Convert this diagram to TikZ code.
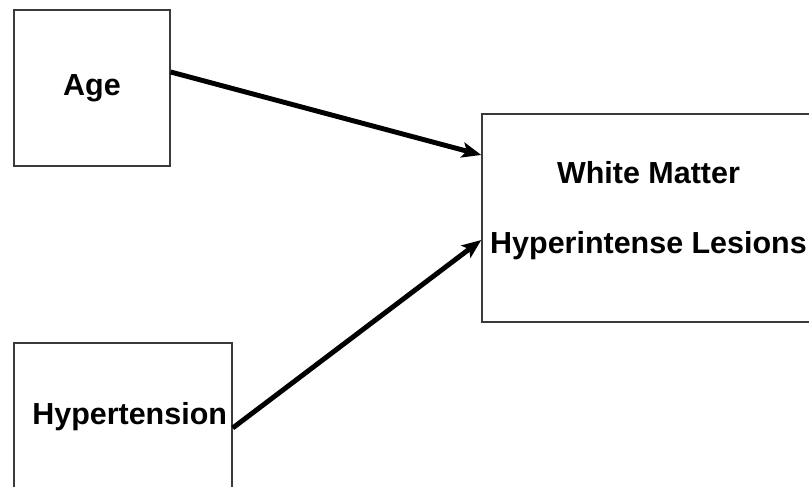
\documentclass[tikz,border=0pt]{standalone}
\usepackage{fontspec}
\setmainfont{Liberation Sans}
\usetikzlibrary{arrows.meta, positioning}
\definecolor{boxgray}{HTML}{3A3A3A}

\begin{document}
\begin{tikzpicture}[
  x=0.03cm, y=-0.03cm,
  box/.style={draw=boxgray, line width=1.2pt, inner sep=0pt, align=center, font=\fontsize{26pt}{60pt}\selectfont\bfseries},
  arr/.style={-{Stealth[length=5.8mm, width=4.6mm, inset=1.3mm]}, line width=4.2pt},
]
  \useasboundingbox (0,0) rectangle (809,487);
  \node[box, minimum width=4.68cm, minimum height=4.68cm] (age) at (92,88) {Age};
  \node[box, minimum width=6.54cm, minimum height=4.41cm] (hyper) at (123,416.5) {\hspace*{0.4cm}Hypertension};
  \node[box, minimum width=9.99cm, minimum height=6.24cm] (wml) at (648.5,218) {White Matter\\Hyperintense Lesions\\[-42pt]\mbox{}};

  \draw[arr] ([yshift=0.48cm]age.east) -- ([yshift=1.89cm]wml.west);
  \draw[arr] ([yshift=-0.345cm]hyper.east) -- ([yshift=-0.66cm]wml.west);
\end{tikzpicture}
\end{document}
